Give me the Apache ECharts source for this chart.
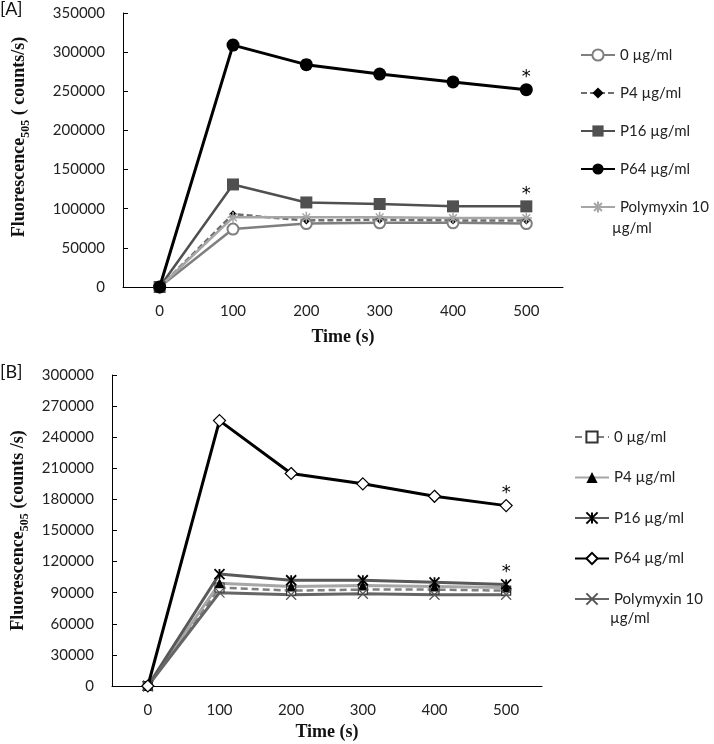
<!DOCTYPE html>
<html>
<head>
<meta charset="utf-8">
<script src="https://cdn.jsdelivr.net/npm/echarts@6/dist/echarts.min.js"></script>
<style>html,body{margin:0;padding:0;background:#fff}#c{width:714px;height:744px}</style>
</head>
<body>
<div id="c"></div>
<script>
// ---- data ----
const timeLabels = ['0', '100', '200', '300', '400', '500'];
const seriesNames = ['0 µg/ml', 'P4 µg/ml', 'P16 µg/ml', 'P64 µg/ml', 'Polymyxin 10 µg/ml'];
// Panel A
const a0    = [0, 74000, 81000, 82000, 82000, 81000];
const aP4   = [0, 93000, 85000, 86000, 85000, 85000];
const aP16  = [0, 131000, 108000, 106000, 103000, 103000];
const aP64  = [0, 309000, 284000, 272000, 262000, 252000];
const aP64Err = [0, 6000, 6000, 3000, 3000, 3000];
const aPoly = [0, 89000, 89000, 89000, 88000, 88000];
// Panel B
const b0    = [0, 95000, 92000, 93000, 93000, 92000];
const bP4   = [0, 99000, 96000, 97000, 96000, 95000];
const bP16  = [0, 108000, 102000, 102000, 100000, 98000];
const bP64  = [0, 256000, 205000, 195000, 183000, 174000];
const bPoly = [0, 90000, 88000, 89000, 88000, 88000];
const starIndex = 5;

const chart = echarts.init(document.getElementById('c'));

const asterisk = 'path://M0,5L10,5M5,0L5,10M1.5,1.5L8.5,8.5M8.5,1.5L1.5,8.5';
const xMark = 'path://M0,0L10,10M10,0L0,10';
const xStar = 'path://M0,0L10,10M10,0L0,10M5,0L5,10';

function withStar(arr) {
  return arr.map((v, i) => i === starIndex ? {
    value: v,
    label: { show: true, formatter: '*', position: 'top', distance: -3, color: '#000', fontSize: 18, fontFamily: 'DejaVu Sans' }
  } : v);
}

function line(name, data, xi, lineStyle, symbol, size, itemStyle, z) {
  return {
    type: 'line', name, data, xAxisIndex: xi, yAxisIndex: xi,
    symbol, symbolSize: size, showAllSymbol: true,
    lineStyle, itemStyle, z: z || 2, animation: false,
    emphasis: { disabled: true }
  };
}

const axisFont = { fontFamily: 'Lato', fontSize: 15, color: '#222' };
const titleFont = { fontFamily: 'Liberation Serif', fontWeight: 'bold', fontSize: 18, color: '#111' };

function xAxis(gi, gap) {
  return {
    type: 'category', gridIndex: gi, data: timeLabels, boundaryGap: true,
    name: 'Time (s)', nameLocation: 'middle', nameGap: gap, nameTextStyle: titleFont,
    axisLine: { lineStyle: { color: '#000', width: 1 } },
    axisTick: { inside: true, length: 5, lineStyle: { color: '#000' } },
    axisLabel: Object.assign({ margin: 17 }, axisFont),
    splitLine: { show: false }
  };
}

function yAxis(gi, max, interval, nameText, gap, pad) {
  return {
    type: 'value', gridIndex: gi, min: 0, max, interval,
    name: nameText, nameLocation: 'middle', nameRotate: 90, nameGap: gap,
    nameTextStyle: Object.assign({}, titleFont, {
      padding: pad,
      rich: { sub: { fontFamily: 'Liberation Serif', fontWeight: 'bold', fontSize: 12, color: '#111', verticalAlign: 'bottom', padding: [0, 0, -4, 0] } }
    }),
    axisLine: { show: true, lineStyle: { color: '#000', width: 1 } },
    axisTick: { show: true, inside: true, length: 5, lineStyle: { color: '#000' } },
    axisLabel: Object.assign({ margin: 18, formatter: v => String(v) }, axisFont),
    splitLine: { show: false }
  };
}

const legendText = { fontFamily: 'Lato', fontSize: 15, color: '#222', lineHeight: 20 };

const option = {
  backgroundColor: '#fff',
  animation: false,
  grid: [
    { left: 123, top: 13, width: 440, height: 274 },
    { left: 112, top: 375, width: 430, height: 311 }
  ],
  xAxis: [xAxis(0, 41), xAxis(1, 37)],
  yAxis: [
    yAxis(0, 350000, 50000, 'Fluorescence{sub|505} ( counts/s)', 95, [0, 0, 0, 26]),
    yAxis(1, 300000, 30000, 'Fluorescence{sub|505} (counts /s)', 85, 0)
  ],
  legend: [
    {
      left: 575, top: 40, orient: 'vertical', itemWidth: 34, itemHeight: 14, itemGap: 18,
      textStyle: legendText, selectedMode: false,
      formatter: n => n.startsWith('Polymyxin') ? 'Polymyxin 10' : n,
      data: seriesNames.map(n => ({ name: n }))
    }
  ],
  graphic: [
    { type: 'text', left: 0, top: 0, style: { text: '[A]', font: '18px Lato', fill: '#111' } },
    { type: 'text', left: 0, top: 363, style: { text: '[B]', font: '18px Lato', fill: '#111' } }
  ],
  series: []
};

// Panel A series
option.series.push(
  line(seriesNames[0], a0, 0, { color: '#7f7f7f', width: 2.5 }, 'circle', 11, { color: '#fff', borderColor: '#7f7f7f', borderWidth: 2 }),
  line(seriesNames[1], aP4, 0, { color: '#6e6e6e', width: 2.5, type: [6, 3] }, 'diamond', 8, { color: '#000', borderColor: '#000', borderWidth: 0 }),
  line(seriesNames[2], withStar(aP16), 0, { color: '#505050', width: 2.5 }, 'rect', 12, { color: '#505050' }),
  line(seriesNames[3], withStar(aP64), 0, { color: '#000', width: 3 }, 'circle', 13, { color: '#000' }, 3),
  line(seriesNames[4], aPoly, 0, { color: '#a6a6a6', width: 2.5 }, asterisk, 11, { color: 'rgba(0,0,0,0)', borderColor: '#a6a6a6', borderWidth: 1.5 })
);

// error bars for P64 in panel A
option.series.push({
  type: 'custom', xAxisIndex: 0, yAxisIndex: 0, z: 2, silent: true,
  data: aP64.map((v, i) => [i, v - aP64Err[i], v + aP64Err[i]]),
  renderItem: (params, api) => {
    const lo = api.coord([api.value(0), api.value(1)]);
    const hi = api.coord([api.value(0), api.value(2)]);
    const cap = 4;
    return {
      type: 'group', children: [
        { type: 'line', shape: { x1: lo[0], y1: lo[1], x2: hi[0], y2: hi[1] }, style: { stroke: '#000', lineWidth: 1.2 } },
        { type: 'line', shape: { x1: hi[0] - cap, y1: hi[1], x2: hi[0] + cap, y2: hi[1] }, style: { stroke: '#000', lineWidth: 1.2 } },
        { type: 'line', shape: { x1: lo[0] - cap, y1: lo[1], x2: lo[0] + cap, y2: lo[1] }, style: { stroke: '#000', lineWidth: 1.2 } }
      ]
    };
  }
});

// Panel B series (distinct internal names, same visible legend text)
const bNames = seriesNames.map(n => n + '\u200b');
option.series.push(
  line(bNames[0], b0, 1, { color: '#7f7f7f', width: 2.5, type: [7, 4] }, 'rect', 9, { color: '#fff', borderColor: '#333', borderWidth: 1.2 }),
  line(bNames[1], bP4, 1, { color: '#a6a6a6', width: 3 }, 'triangle', 10, { color: '#000' }),
  line(bNames[2], withStar(bP16), 1, { color: '#595959', width: 3 }, xStar, 10, { color: 'rgba(0,0,0,0)', borderColor: '#000', borderWidth: 1.8 }),
  line(bNames[3], withStar(bP64), 1, { color: '#000', width: 3 }, 'diamond', 12, { color: '#fff', borderColor: '#000', borderWidth: 1.2 }, 3),
  line(bNames[4], bPoly, 1, { color: '#666', width: 3 }, xMark, 10, { color: 'rgba(0,0,0,0)', borderColor: '#555', borderWidth: 1.2 })
);

option.legend.push({
  left: 569, top: 422, orient: 'vertical', itemWidth: 34, itemHeight: 14, itemGap: 20.5,
  textStyle: legendText, selectedMode: false,
  formatter: n => { const t = n.replace('\u200b', ''); return t.startsWith('Polymyxin') ? 'Polymyxin 10' : t; },
  data: bNames.map(n => ({ name: n }))
});

option.graphic.push(
  { type: 'text', left: 612, top: 221, style: { text: 'µg/ml', font: '15px Lato', fill: '#222' } },
  { type: 'text', left: 610, top: 611, style: { text: 'µg/ml', font: '15px Lato', fill: '#222' } }
);

chart.setOption(option);
</script>
</body>
</html>
